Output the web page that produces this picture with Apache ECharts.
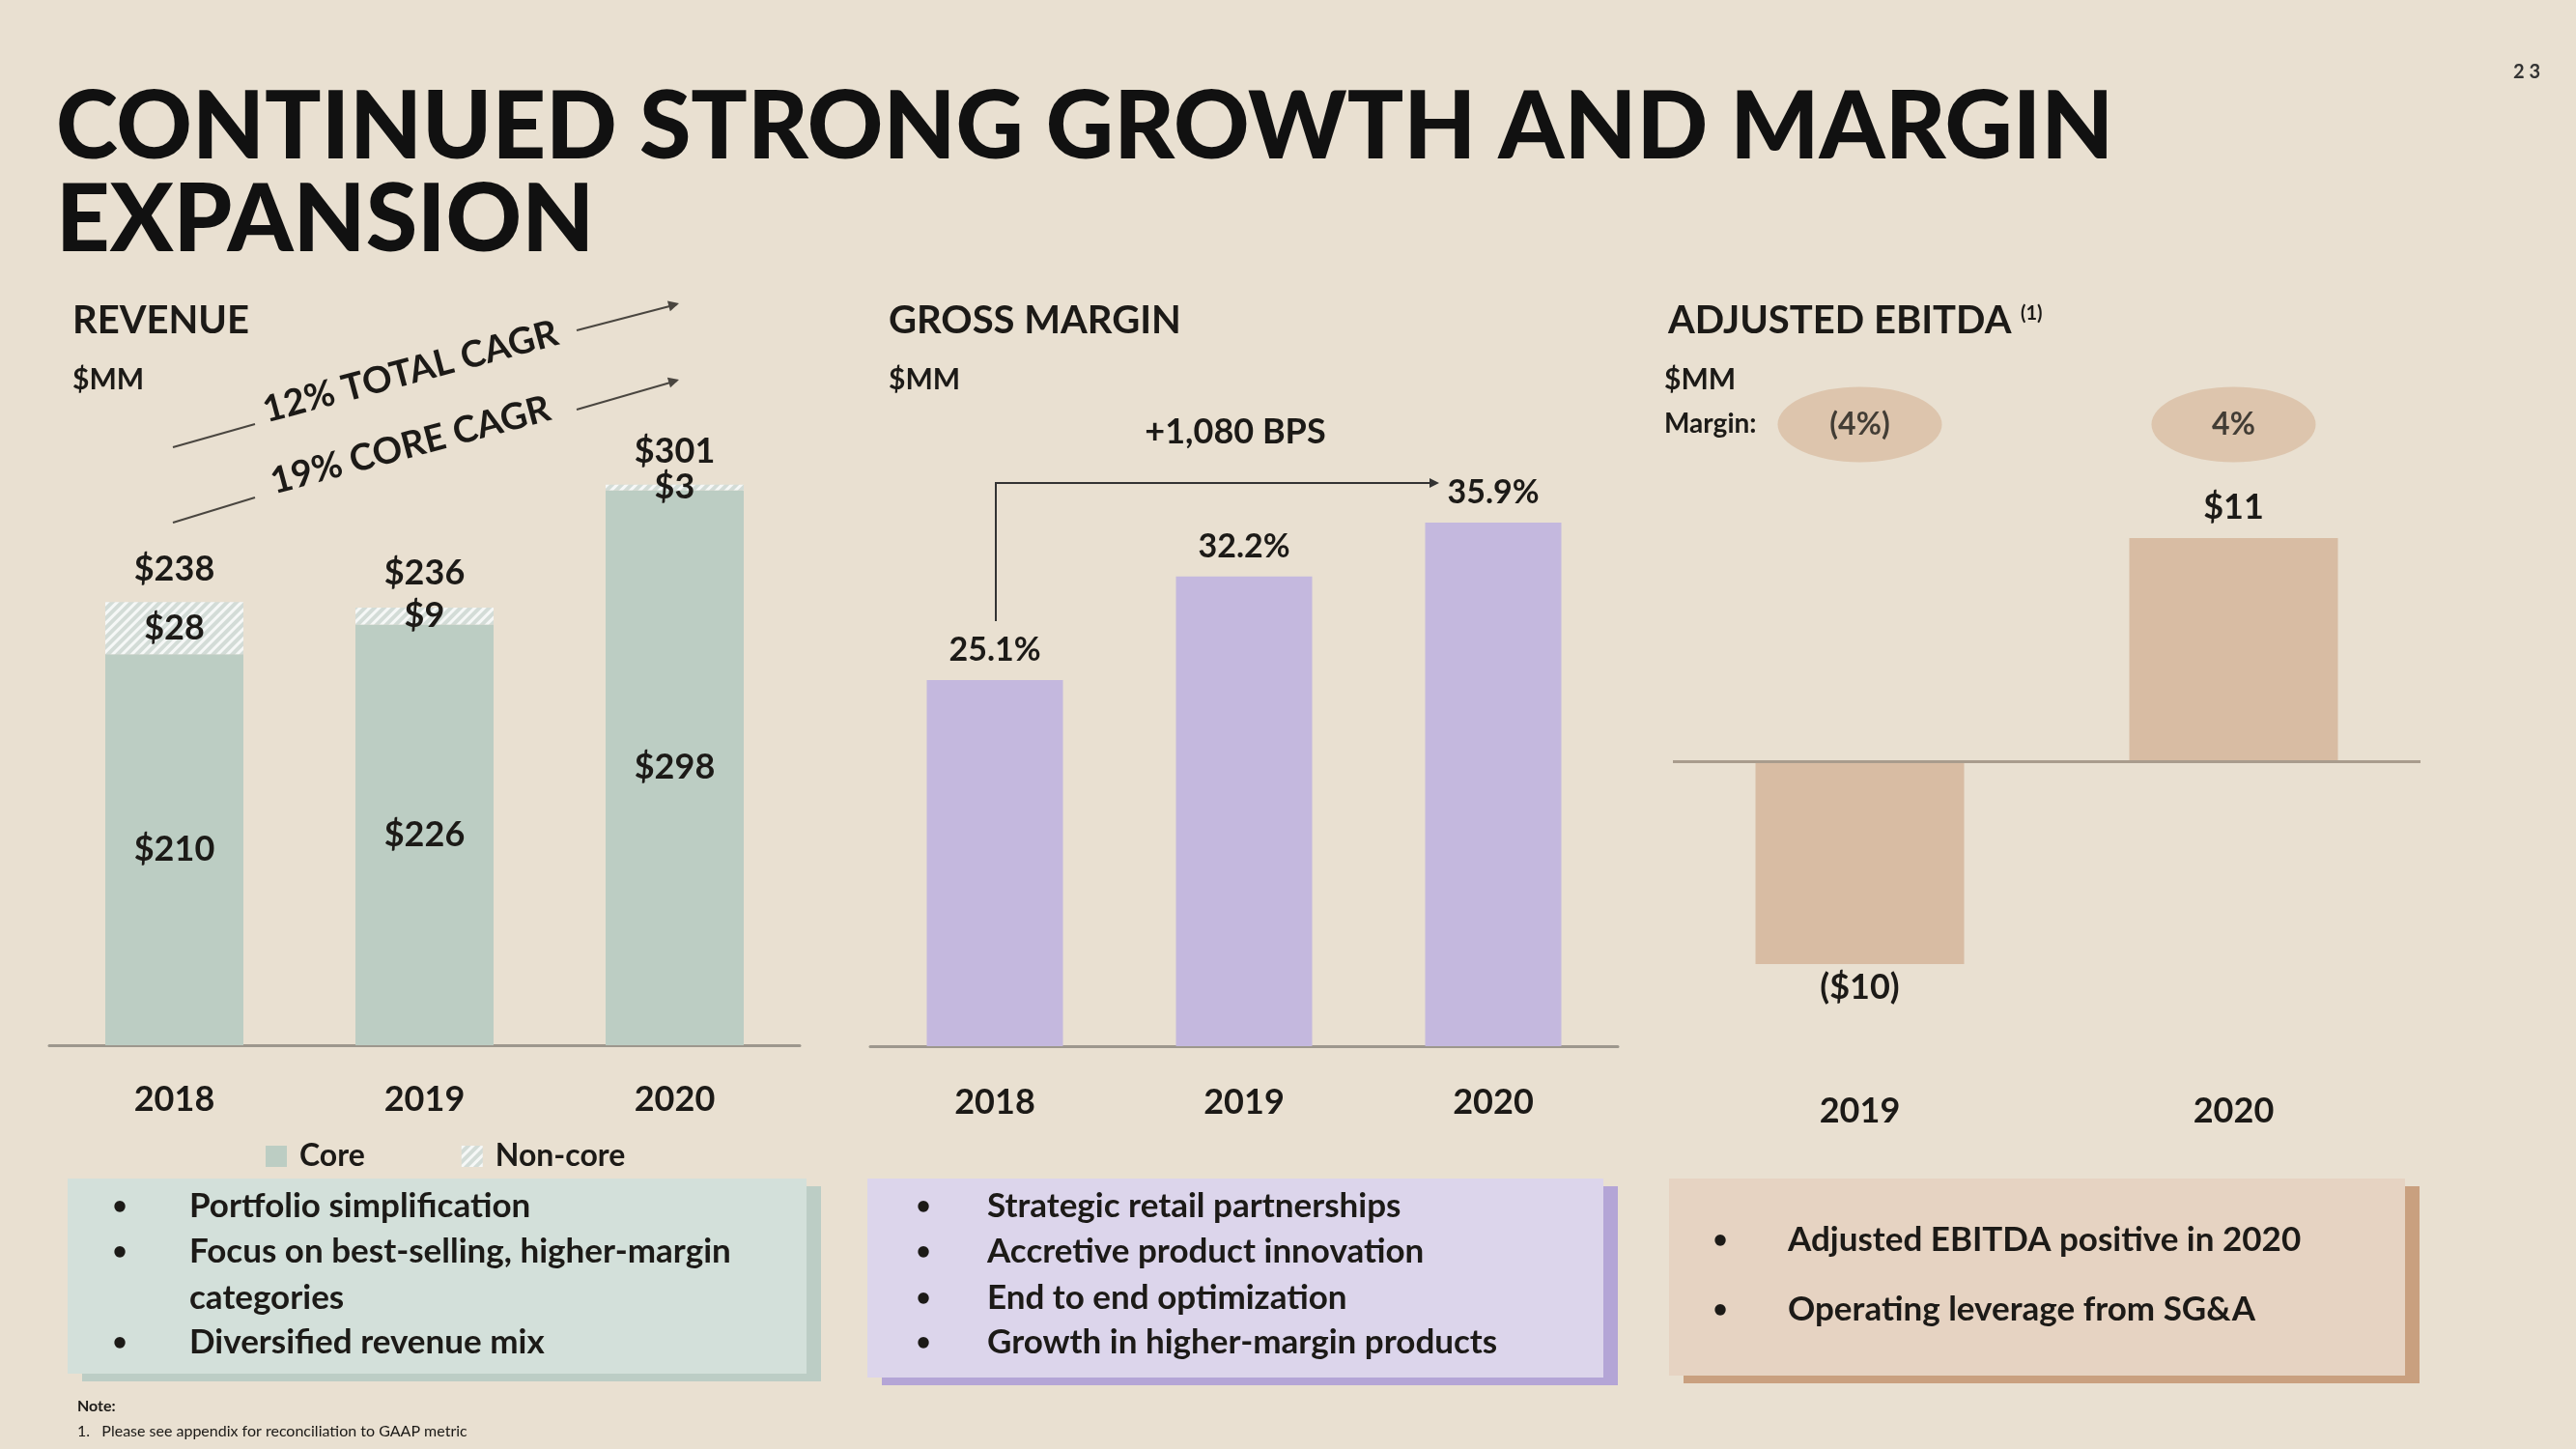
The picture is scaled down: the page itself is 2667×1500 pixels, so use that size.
<!DOCTYPE html>
<html><head><meta charset="utf-8">
<script src="https://cdn.jsdelivr.net/npm/echarts@6/dist/echarts.min.js"></script>
<style>html,body{margin:0;padding:0;background:#e9e0d1;}#c{width:2667px;height:1500px;}</style>
</head><body><div id="c"></div>
<script>
// ---------- DATA ----------
const years = ['2018', '2019', '2020'];
const revenueCore = [210, 226, 298];
const revenueNonCore = [28, 9, 3];
const revenueTotal = [238, 236, 301];
const gmYears = ['2018', '2019', '2020'];
const grossMargin = [25.1, 32.2, 35.9];
const ebitdaYears = ['2019', '2020'];
const ebitda = [-10, 11];
const ebitdaMargin = ['(4%)', '4%'];
const revenueBullets = [['•', 'Portfolio simplification'], ['•', 'Focus on best-selling, higher-margin'], ['', 'categories'], ['•', 'Diversified revenue mix']];
const gmBullets = ['Strategic retail partnerships', 'Accretive product innovation', 'End to end optimization', 'Growth in higher-margin products'];
const ebitdaBullets = ['Adjusted EBITDA positive in 2020', 'Operating leverage from SG&A'];

// ---------- STYLE ----------
const INK = '#1c1a17';
const FONT = 'Lato';
const MARGIN_ROW = 16.6; // vertical level of margin bubbles in EBITDA axis units

const chart = echarts.init(document.getElementById('c'), null, {renderer: 'canvas'});

function txt(x, y, text, size, opts) {
  return Object.assign({type: 'text', x: x, y: y, style: Object.assign({text: text, fill: INK, font: 'bold ' + size + 'px ' + FONT, textVerticalAlign: 'middle', textAlign: 'left'}, (opts && opts.style) || {})}, (opts && opts.el) || {});
}
function line(x1, y1, x2, y2, color, w) {
  return {type: 'line', shape: {x1, y1, x2, y2}, style: {stroke: color || '#4a4640', lineWidth: w || 2}};
}
function arrowHead(x1, y1, x2, y2, color, s) {
  s = s || 11;
  const a = Math.atan2(y2 - y1, x2 - x1);
  const p1 = [x2, y2];
  const p2 = [x2 - s * Math.cos(a) + s * 0.5 * Math.sin(a), y2 - s * Math.sin(a) - s * 0.5 * Math.cos(a)];
  const p3 = [x2 - s * Math.cos(a) - s * 0.5 * Math.sin(a), y2 - s * Math.sin(a) + s * 0.5 * Math.cos(a)];
  return {type: 'polygon', shape: {points: [p1, p2, p3]}, style: {fill: color || '#4a4640'}};
}
function box(x, y, w, h, fill, shadow) {
  return [
    {type: 'rect', shape: {x: x + 15, y: y + 8, width: w, height: h}, style: {fill: shadow}},
    {type: 'rect', shape: {x: x, y: y, width: w, height: h}, style: {fill: fill}}
  ];
}

const g = [];
// Title
g.push(txt(58, 133, 'CONTINUED STRONG GROWTH AND MARGIN', 97, {style: {font: '900 97px ' + FONT, fill: '#111'}}));
g.push(txt(58, 229, 'EXPANSION', 97, {style: {font: '900 97px ' + FONT, fill: '#111'}}));
g.push(txt(2616, 75, '2 3', 20, {style: {textAlign: 'center', fill: '#333'}}));
// Section headers
g.push(txt(75, 332, 'REVENUE', 40));
g.push(txt(75, 393, '$MM', 30));
g.push(txt(920, 332, 'GROSS MARGIN', 40));
g.push(txt(920, 393, '$MM', 30));
g.push(txt(1727, 332, 'ADJUSTED EBITDA', 40));
g.push(txt(2092, 325, '(1)', 20));
g.push(txt(1723, 393, '$MM', 30));
g.push(txt(1723, 439, 'Margin:', 28));
// CAGR annotations
const rot = 15 * Math.PI / 180;
g.push({type: 'text', x: 425, y: 385, rotation: rot, style: {text: '12% TOTAL CAGR', fill: INK, font: 'bold 38px ' + FONT, textAlign: 'center', textVerticalAlign: 'middle'}});
g.push({type: 'text', x: 425, y: 461, rotation: rot, style: {text: '19% CORE CAGR', fill: INK, font: 'bold 38px ' + FONT, textAlign: 'center', textVerticalAlign: 'middle'}});
g.push(line(179, 463, 264, 439));
g.push(line(597, 342, 701, 315));
g.push(arrowHead(597, 342, 703, 314));
g.push(line(179, 541, 264, 515));
g.push(line(597, 424, 701, 394));
g.push(arrowHead(597, 424, 703, 393));
// Gross margin bracket
g.push(txt(1279, 447, '+1,080 BPS', 36, {style: {textAlign: 'center'}}));
g.push(line(1031, 643, 1031, 500, '#333'));
g.push(line(1030, 500, 1480, 500, '#333'));
g.push(arrowHead(1470, 500, 1490, 500, '#333', 10));
// Boxes
box(70, 1220, 765, 202, '#d3e0da', '#bccdc5').forEach(e => g.push(e));
box(898, 1220, 762, 206, '#dcd5eb', '#b4a5d6').forEach(e => g.push(e));
box(1728, 1220, 762, 204, '#e6d3c2', '#c9a07f').forEach(e => g.push(e));
const ly = [1249, 1296, 1344, 1390];
revenueBullets.forEach((b, i) => {
  if (b[0]) g.push(txt(124, ly[i], b[0], 26, {style: {textAlign: 'center'}}));
  g.push(txt(196, ly[i], b[1], 35));
});
gmBullets.forEach((t, i) => {
  g.push(txt(956, ly[i], '•', 26, {style: {textAlign: 'center'}}));
  g.push(txt(1022, ly[i], t, 35));
});
const ly3 = [1284, 1356];
ebitdaBullets.forEach((t, i) => {
  g.push(txt(1781, ly3[i], '•', 26, {style: {textAlign: 'center'}}));
  g.push(txt(1851, ly3[i], t, 35));
});
// Note
g.push(txt(80, 1456, 'Note:', 16));
g.push(txt(80, 1482, '1.   Please see appendix for reconciliation to GAAP metric', 16, {style: {font: '16px ' + FONT}}));

const labelBase = {color: INK, fontFamily: FONT, fontWeight: 'bold'};
const dollar = v => (v < 0 ? '($' + Math.abs(v) + ')' : '$' + v);

chart.setOption({
  backgroundColor: '#e9e0d1',
  animation: false,
  textStyle: {fontFamily: FONT},
  legend: {
    data: ['Core', 'Non-core'], left: 270, top: 1176, itemWidth: 22, itemHeight: 22, itemGap: 100,
    icon: 'rect', textStyle: {fontSize: 32, fontWeight: 'bold', color: INK, fontFamily: FONT, padding: [0, 0, 0, 8]}
  },
  grid: [
    {left: 51, right: 1839, top: 311, bottom: 418},
    {left: 901, right: 992, top: 328, bottom: 417},
    {left: 1732, right: 161, top: 368, bottom: 418}
  ],
  xAxis: [
    {gridIndex: 0, type: 'category', data: years, axisLine: {lineStyle: {color: '#9d978d', width: 3}}, axisTick: {show: false},
      axisLabel: Object.assign({margin: 38, fontSize: 36}, labelBase)},
    {gridIndex: 1, type: 'category', data: gmYears, axisLine: {lineStyle: {color: '#9d978d', width: 3}}, axisTick: {show: false},
      axisLabel: Object.assign({margin: 40, fontSize: 36}, labelBase)},
    {gridIndex: 2, type: 'category', data: ebitdaYears, axisLine: {show: false, onZero: false}, axisTick: {show: false},
      axisLabel: Object.assign({margin: 50, fontSize: 36}, labelBase)}
  ],
  yAxis: [
    {gridIndex: 0, type: 'value', min: 0, max: 400, show: false},
    {gridIndex: 1, type: 'value', min: 0, max: 50, show: false},
    {gridIndex: 2, type: 'value', min: -14, max: 20, show: false}
  ],
  series: [
    {name: 'Core', type: 'bar', stack: 'rev', xAxisIndex: 0, yAxisIndex: 0, barWidth: 143, data: revenueCore,
      itemStyle: {color: '#bccdc3'},
      label: Object.assign({show: true, position: 'inside', fontSize: 36, formatter: p => dollar(p.value)}, labelBase)},
    {name: 'Non-core', type: 'bar', stack: 'rev', xAxisIndex: 0, yAxisIndex: 0, barWidth: 143, data: revenueNonCore,
      itemStyle: {color: '#d3dcd7', decal: {symbol: 'rect', symbolSize: 1, dashArrayX: [[1, 0]], dashArrayY: [3, 4], rotation: -Math.PI / 4, color: 'rgba(255,255,255,0.8)'}},
      label: Object.assign({show: true, position: 'inside', fontSize: 36, formatter: p => dollar(p.value)}, labelBase)},
    {name: 'Total', type: 'bar', xAxisIndex: 0, yAxisIndex: 0, barWidth: 143, barGap: '-100%', data: revenueTotal,
      itemStyle: {color: 'rgba(0,0,0,0)'}, silent: true,
      label: Object.assign({show: true, position: 'top', distance: 16, fontSize: 36, formatter: p => dollar(p.value)}, labelBase)},
    {name: 'Gross margin', type: 'bar', xAxisIndex: 1, yAxisIndex: 1, barWidth: 141, data: grossMargin,
      itemStyle: {color: '#c4b8de'},
      label: Object.assign({show: true, position: 'top', distance: 14, fontSize: 34, formatter: p => p.value + '%'}, labelBase)},
    {name: 'Adjusted EBITDA', type: 'bar', xAxisIndex: 2, yAxisIndex: 2, barWidth: 216,
      data: ebitda.map(v => ({value: v, label: {position: v < 0 ? 'bottom' : 'top', distance: v < 0 ? 6 : 14}})),
      itemStyle: {color: '#d8bca3'},
      label: Object.assign({show: true, fontSize: 36, formatter: p => dollar(p.value)}, labelBase),
      markLine: {silent: true, symbol: 'none', label: {show: false}, lineStyle: {color: '#a99c8d', width: 3, type: 'solid'}, data: [{yAxis: 0}]}},
    {name: 'Margin', type: 'scatter', xAxisIndex: 2, yAxisIndex: 2, symbol: 'circle', symbolSize: [170, 78],
      data: ebitdaYears.map(c => [c, MARGIN_ROW]), itemStyle: {color: '#d9bea4'}, silent: true,
      label: {show: true, position: 'inside', color: INK, fontFamily: FONT, fontWeight: 'bold', fontSize: 32, formatter: p => ebitdaMargin[p.dataIndex]}}
  ],
  graphic: g
});
</script></body></html>
